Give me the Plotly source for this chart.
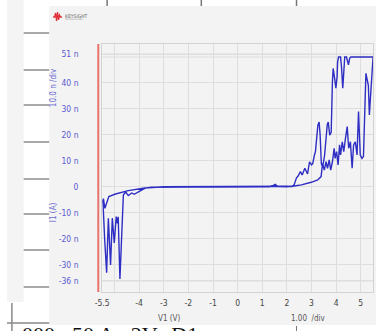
import plotly.graph_objects as go

# Forward sweep V1 = -5.5 V -> +5.5 V, current I1 in nA
fwd_v = [-5.50, -5.47, -5.40, -5.32, -5.25, -5.16, -5.09, -5.01, -4.93, -4.88, -4.85, -4.78,
         -4.64, -4.54, -4.44, -4.30, -4.20, -4.03, -3.77, -3.50, -3.00, -2.00, -1.00, 0.00,
         1.00, 1.30, 1.45, 1.53, 1.62, 2.00, 2.30, 2.59, 2.99, 3.25, 3.39, 3.45, 3.52, 3.59,
         3.65, 3.72, 3.78, 3.85, 3.92, 3.96, 4.02, 4.08, 4.14, 4.18, 4.25, 4.31, 4.38, 4.45,
         4.51, 4.58, 4.65, 4.71, 4.78, 4.85, 4.91, 4.98, 5.05, 5.11, 5.21, 5.28, 5.31, 5.35,
         5.42, 5.49, 5.50]
fwd_i = [-6.0, -5.5, -20.0, -33.0, -12.0, -30.0, -12.0, -21.5, -11.4, -14.0, -11.5, -35.4,
         -3.0, -2.0, -3.3, -2.3, -2.8, -1.8, -0.5, -0.1, 0.0, 0.0, 0.0, 0.0,
         0.0, 0.1, 0.6, 1.0, 0.2, 0.1, 0.4, 0.8, 1.8, 2.7, 4.0, 9.1, 6.5, 9.7,
         7.2, 10.4, 6.5, 9.7, 14.9, 11.0, 13.6, 8.5, 16.2, 12.3, 17.4, 13.6, 18.7, 23.2,
         14.9, 17.4, 7.2, 16.2, 17.4, 12.3, 29.0, 12.3, 11.0, 11.7, 43.7, 41.0, 39.0, 27.7,
         38.0, 49.7, 50.0]

# Return sweep V1 = +5.5 V -> -5.5 V
rev_v = [5.50, 4.60, 4.55, 4.50, 4.46, 4.42, 4.35, 4.30, 4.27, 4.22, 4.18, 4.10, 4.06, 4.04,
         3.99, 3.94, 3.88, 3.85, 3.83, 3.80, 3.74, 3.68, 3.64, 3.59, 3.53, 3.45, 3.40, 3.35,
         3.31, 3.26, 3.21, 3.16, 3.12, 3.05, 3.00, 2.92, 2.84, 2.73, 2.62, 2.55, 2.45, 2.39,
         2.30, 2.22, 2.00, 1.50, 1.00, 0.00, -1.00, -2.00, -3.00, -3.30, -3.77, -4.44, -4.96,
         -5.23, -5.39, -5.45, -5.50]
rev_i = [50.0, 50.0, 49.5, 47.0, 48.5, 50.0, 50.0, 42.0, 38.0, 46.0, 50.0, 50.0, 48.0, 42.4,
         38.0, 41.8, 45.6, 40.5, 30.0, 21.0, 19.9, 25.0, 24.0, 17.0, 12.0, 7.5, 9.0, 20.0,
         25.0, 23.8, 17.0, 13.6, 12.3, 9.0, 8.5, 9.7, 5.0, 7.2, 4.6, 5.9, 4.1, 3.5,
         1.0, 0.2, 0.3, 0.3, 0.25, 0.2, 0.2, 0.2, 0.1, -0.1, -0.4, -1.4, -2.7,
         -3.7, -8.2, -4.5, -6.0]

x_ticks = [-5.5, -5, -4, -3, -2, -1, 0, 1, 2, 3, 4, 5, 5.5]
x_labels = ["-5.5", "", "-4", "-3", "-2", "-1", "0", "1", "2", "3", "4", "5", "5.5"]
y_ticks = [-36, -30, -20, -10, 0, 10, 20, 30, 40, 51]
y_labels = ["-36 n", "-30 n", "-20 n", "-10 n", "0", "10 n", "20 n", "30 n", "40 n", "51 n"]
left_rows = [33, 70, 105, 142, 179, 214, 250, 287]
top_cols = [102, 198, 295]

W, H = 376, 331
NARROW = "Liberation Sans Narrow, DejaVu Sans Condensed, Arial Narrow, sans-serif"


def px(x):
    return x / W


def py(y):
    return 1 - y / H


fig = go.Figure()
fig.add_trace(go.Scatter(x=fwd_v + rev_v, y=fwd_i + rev_i, mode="lines",
                         line=dict(color="#2e2ec4", width=1.4), hoverinfo="skip"))

shapes = []
# instrument screenshot panel and surrounding page
shapes.append(dict(type="rect", xref="paper", yref="paper", x0=px(43), x1=1, y0=py(325), y1=py(6),
                   fillcolor="#f3f3f3", line=dict(width=0), layer="below"))
shapes.append(dict(type="rect", xref="paper", yref="paper", x0=0, x1=px(17), y0=py(302), y1=1,
                   fillcolor="#f4f4f4", line=dict(width=0), layer="below"))
for r in left_rows:
    shapes.append(dict(type="line", xref="paper", yref="paper", x0=px(17), x1=px(43), y0=py(r), y1=py(r),
                       line=dict(color="#8c8c8c", width=1.5)))
for c in top_cols:
    shapes.append(dict(type="line", xref="paper", yref="paper", x0=px(c), x1=px(c), y0=py(0), y1=py(6),
                       line=dict(color="#777777", width=1.5)))
shapes.append(dict(type="line", xref="paper", yref="paper", x0=px(295), x1=px(295), y0=py(326), y1=0,
                   line=dict(color="#777777", width=1)))
shapes.append(dict(type="line", xref="paper", yref="paper", x0=px(5), x1=px(5), y0=py(303), y1=0,
                   line=dict(color="#888888", width=1.5)))
shapes.append(dict(type="line", xref="paper", yref="paper", x0=0, x1=px(43), y0=py(323), y1=py(323),
                   line=dict(color="#888888", width=1.5)))
# extra reference lines inside the plot
shapes.append(dict(type="line", xref="x domain", yref="y", x0=0, x1=1, y0=50, y1=50,
                   line=dict(color="#dcdcdc", width=1), layer="below"))
for lim in (51, -36):
    shapes.append(dict(type="line", xref="x domain", yref="y", x0=0, x1=1, y0=lim, y1=lim,
                       line=dict(color="#c8c8c8", width=1.2), layer="below"))
# red cursor bar left of the plot
shapes.append(dict(type="line", xref="paper", yref="paper", x0=px(93), x1=px(93), y0=py(292), y1=py(44),
                   line=dict(color="#e8736c", width=2)))
# logo waveform
wave = [(47, 17), (48.5, 17), (49.5, 13), (50.5, 21), (51.5, 12), (52.5, 20), (53.5, 15), (54.5, 17), (56, 17)]
path = "M " + " L ".join(f"{px(a):.5f},{py(b):.5f}" for a, b in wave)
shapes.append(dict(type="path", xref="paper", yref="paper", path=path,
                   line=dict(color="#e0303a", width=1.3)))


def label(text, x, y, size, color, family=NARROW, angle=0, xanchor="center", yanchor="middle"):
    return dict(text=text, x=px(x), y=py(y), xref="paper", yref="paper", xanchor=xanchor,
                yanchor=yanchor, textangle=angle, showarrow=False,
                font=dict(size=size, color=color, family=family))


ann = [
    label("KEYSIGHT", 57, 15.5, 5, "#666666", xanchor="left"),
    label("TECHNOLOGIES", 57.5, 19.5, 2.5, "#999999", xanchor="left"),
    label("10.0 n /div", 47, 88, 8, "#6a6ad2", angle=-90),
    label("I1 (A)", 47, 212, 8, "#6a6ad2", angle=-90),
    label("V1 (V)", 166, 318, 8, "#555555"),
    label("1.00  /div", 307, 318, 8, "#555555"),
    label("000;  50 A,  2V,  D1", 13, 320, 22, "#111111",
          family="Liberation Serif, DejaVu Serif, serif", xanchor="left", yanchor="top"),
]

fig.update_layout(
    width=W, height=H, margin=dict(l=0, r=0, t=0, b=0),
    paper_bgcolor="#ffffff", plot_bgcolor="#f7f7f7",
    showlegend=False, shapes=shapes, annotations=ann,
    xaxis=dict(domain=[px(97), px(373)], range=[-5.5, 5.5], tickvals=x_ticks, ticktext=x_labels,
               showgrid=True, gridcolor="#dedede", gridwidth=1, zeroline=False,
               showline=True, mirror=True, linecolor="#d2d2d2", linewidth=1,
               ticks="", ticklabelstandoff=3,
               tickfont=dict(size=8.5, color="#444444", family=NARROW)),
    yaxis=dict(domain=[py(292), py(44)], range=[-40.4, 55], tickvals=y_ticks, ticktext=y_labels,
               showgrid=True, gridcolor="#dedede", gridwidth=1, zeroline=False,
               showline=True, mirror=True, linecolor="#d2d2d2", linewidth=1,
               ticks="", ticklabelstandoff=21,
               tickfont=dict(size=8.5, color="#5a5ad0", family=NARROW)),
)

fig.write_html("out.html")
